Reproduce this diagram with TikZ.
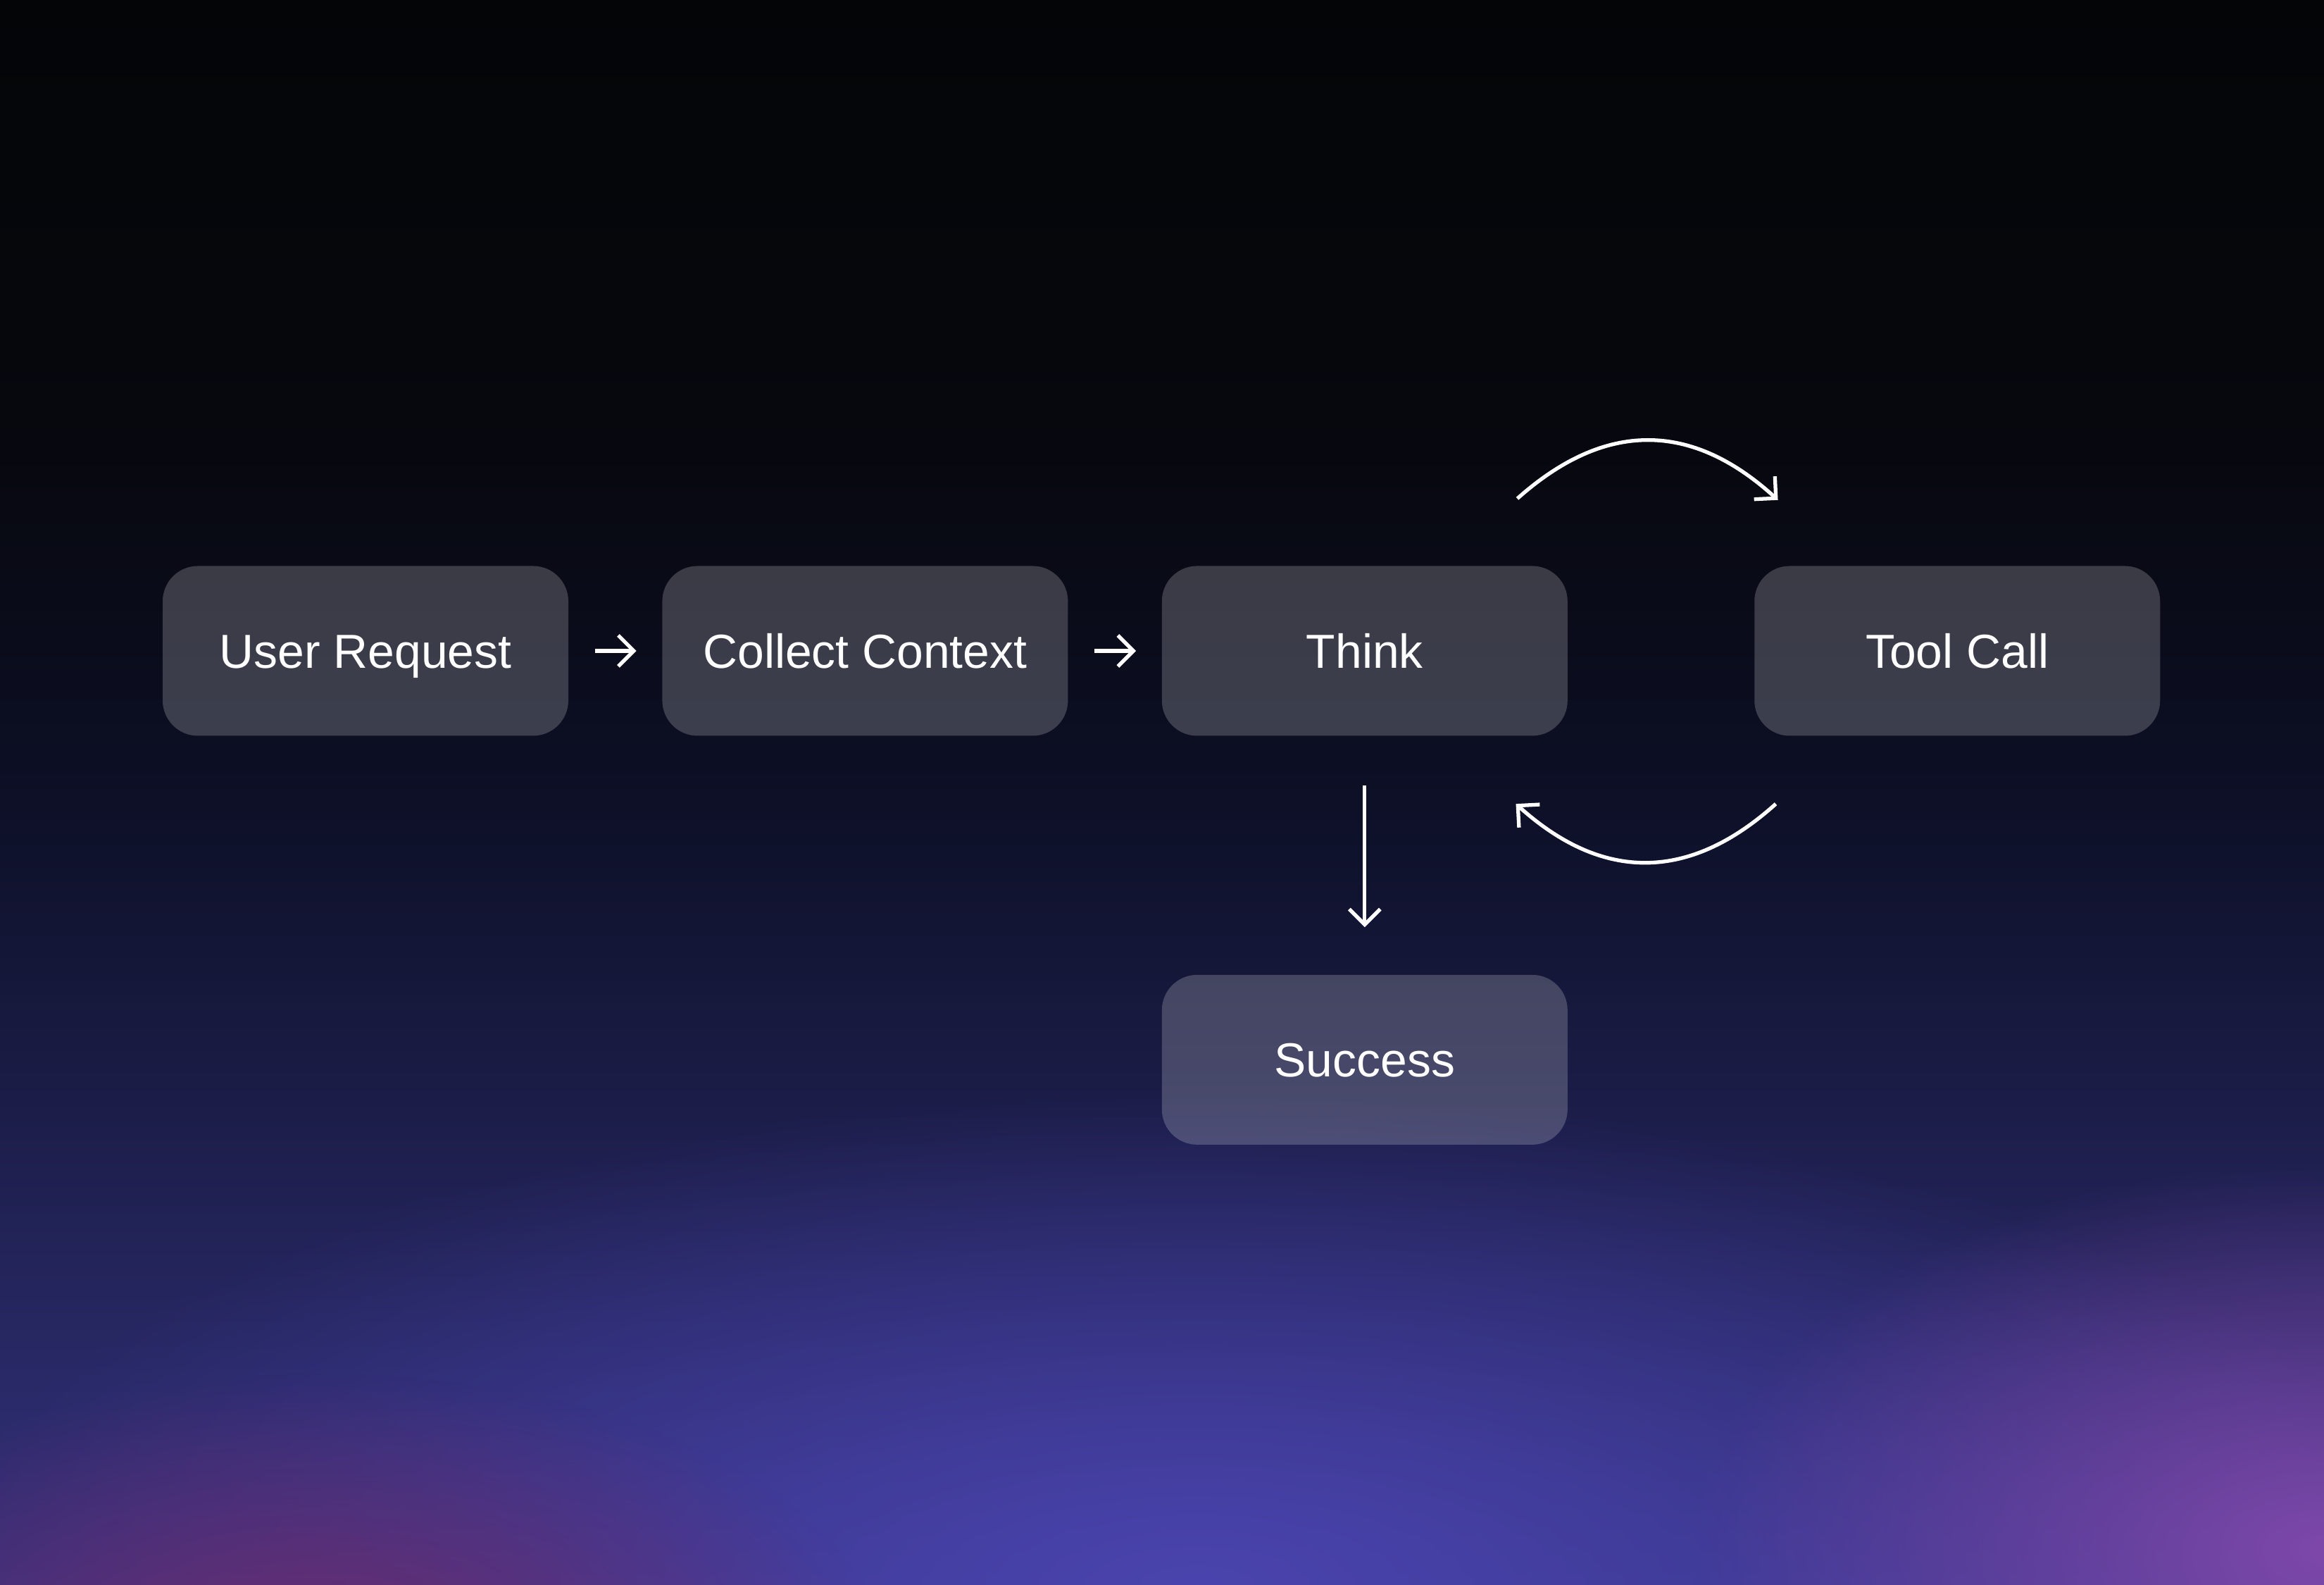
\documentclass[tikz,border=0pt]{standalone}
\usepackage{fontspec}
\setmainfont{Liberation Sans}
\usetikzlibrary{arrows.meta,positioning,fadings}
\definecolor{skytop}{HTML}{040507}
\definecolor{skymid}{HTML}{07080F}
\definecolor{skylow}{HTML}{0D1027}
\definecolor{skybase}{HTML}{33327E}
\definecolor{glowblue}{HTML}{4A44AE}
\definecolor{glowpink}{HTML}{6A2C6E}
\definecolor{glowviolet}{HTML}{7E48AA}
\tikzfading[name=glowfade, inner color=transparent!0, outer color=transparent!100]

\begin{document}
\begin{tikzpicture}[font=\fontsize{19.3}{23}\selectfont,
  stage/.style={rounded corners=0.5cm, fill=white, fill opacity=0.2, text opacity=1, text=white,
    minimum width=5.76cm, minimum height=2.41cm, inner sep=0pt, text height=13.8pt, text depth=0pt},
  flow/.style={white, line width=1.5pt, -{Straight Barb[length=2.2mm,width=4.4mm]}}]
\useasboundingbox (0,0) rectangle (33,22.5);
% background
\begin{scope}
\clip (0,0) rectangle (33,22.5);
\shade[top color=skytop, bottom color=skymid] (0,16) rectangle (33,22.5);
\shade[top color=skymid, bottom color=skylow] (0,11) rectangle (33,16);
\shade[top color=skylow, bottom color=skybase] (0,0) rectangle (33,11);
\fill[glowblue, path fading=glowfade] (17,0) ellipse (18 and 7);
\fill[glowpink, path fading=glowfade] (4.5,-1) ellipse (8 and 4);
\fill[glowviolet, path fading=glowfade] (33,0.5) ellipse (9 and 5.5);
\end{scope}

\node[stage] (user) at (5.19,13.26) {User Request};
\node[stage, right=1.32cm of user] (collect) {Collect Context};
\node[stage, right=1.32cm of collect] (think) {Think};
\node[stage, right=2.64cm of think] (tool) {Tool Call};
\node[stage, below=3.38cm of think] (success) {Success};

\coordinate (loopout) at ([shift={(-0.72,0.95)}]think.north east);
\coordinate (loopin) at ([shift={(0.34,0.93)}]tool.north west);
\coordinate (backout) at ([shift={(0.31,-0.96)}]tool.south west);
\coordinate (backin) at ([shift={(-0.74,-0.96)}]think.south east);

\draw[flow, shorten <=0.37cm, shorten >=0.36cm] (user) -- (collect);
\draw[flow, shorten <=0.37cm, shorten >=0.36cm] (collect) -- (think);
\draw[flow, shorten <=0.70cm, shorten >=0.67cm] (think) -- (success);
\draw[flow] (loopout) to[bend left=42, looseness=1.15] (loopin);
\draw[flow] (backout) to[bend left=42, looseness=1.15] (backin);
\end{tikzpicture}
\end{document}
